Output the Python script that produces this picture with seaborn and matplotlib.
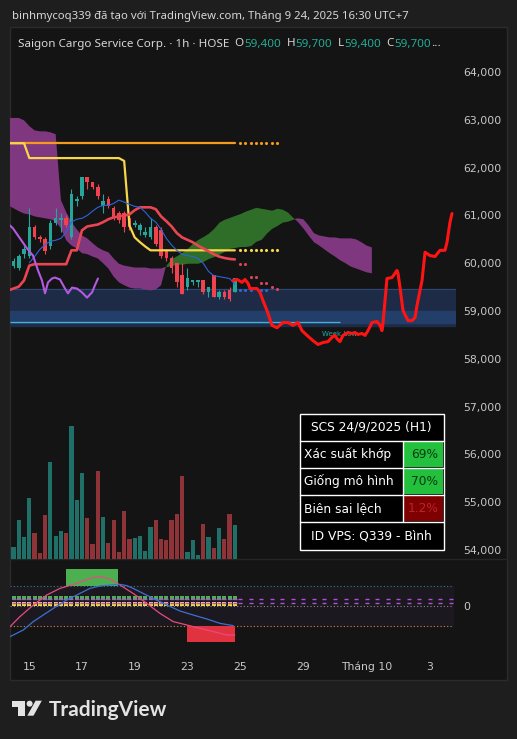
import numpy as np
import seaborn as sns
import matplotlib.pyplot as plt
from matplotlib.patches import Rectangle, Polygon, Circle
from matplotlib.ticker import FuncFormatter

# ---------------- data (SCS, 1h, HOSE) ----------------
# bar index 0 = last bars of 12/9, index 42 = 24/9 16:00
opens = [59950, 59900, 60200, 60150, 60750, 60550, 60500, 60350, 60850, 60900, 60950, 60550, 61300, 61400,
         61800, 61700, 61600, 61200, 61350, 61150, 61050, 61050, 60950, 60800, 60700, 60600, 60550, 60750,
         60700, 60250, 60100, 60000, 59750, 59500, 59600, 59600, 59650, 59400, 59750, 59300, 59400, 59450, 59400]
highs = [60100, 60200, 60350, 61150, 60800, 60600, 60550, 60900, 61150, 61050, 61000, 61550, 61400, 61800,
         61800, 61700, 61650, 61450, 61400, 61200, 61100, 61100, 61000, 60900, 60850, 60750, 60950, 60800,
         60750, 60300, 60150, 60000, 60000, 59900, 59650, 59650, 59650, 59500, 59750, 59450, 59450, 59500, 59700]
lows = [59900, 59850, 60100, 60100, 60500, 60450, 60200, 60300, 60800, 60650, 60750, 60500, 61200, 61350,
        61550, 61550, 61350, 61050, 61150, 60900, 60850, 60650, 60700, 60750, 60600, 60550, 60500, 60350,
        60100, 60050, 59800, 59500, 59350, 59450, 59550, 59500, 59350, 59300, 59300, 59250, 59250, 59200, 59400]
closes = [60050, 60150, 60300, 60750, 60550, 60500, 60250, 60850, 60950, 60950, 60800, 61450, 61350, 61800,
          61700, 61600, 61400, 61300, 61200, 60950, 60900, 60750, 60750, 60850, 60800, 60650, 60750, 60400,
          60150, 60100, 59900, 59600, 59350, 59700, 59650, 59650, 59400, 59500, 59300, 59400, 59300, 59250, 59700]
volumes = [24, 78, 44, 122, 52, 12, 88, 194, 46, 56, 52, 266, 118, 172, 82, 30, 176, 84, 32, 78, 14, 96,
           40, 42, 46, 16, 64, 78, 40, 38, 78, 90, 166, 14, 38, 8, 70, 44, 22, 62, 40, 90, 68]  # nghìn cp

# ichimoku-like lines, one value per bar starting at bar -1
kijun = [59430, 59470, 59510, 59640, 59950, 59980, 59980, 59980, 59980, 59980, 59980, 59980, 60270, 60270,
         60690, 60770, 60790, 60810, 60860, 60920, 60960, 60980, 61000, 61020, 61110, 61170, 61170, 61170,
         61130, 60980, 60880, 60770, 60630, 60540, 60490, 60440, 60370, 60310, 60250, 60190, 60140, 60110,
         60090, 60080]
yellow_line = [62510, 62510, 62510, 62510, 62200, 62200, 62200, 62200, 62200, 62200, 62200, 62200, 62200,
               62200, 62200, 62200, 62200, 62200, 62200, 62200, 62200, 62200, 62140, 60790, 60540, 60440,
               60350, 60270, 60270, 60270, 60270, 60270, 60270, 60270, 60270, 60270, 60270, 60270, 60270,
               60270, 60270, 60270, 60270, 60270]
orange_level = 62510
# tenkan starts at bar 3
tenkan = [60010, 60140, 60290, 60390, 60460, 60480, 60520, 60650, 60860, 60920, 60940, 61000, 61090, 61170,
          61210, 61210, 61250, 61320, 61280, 61230, 61190, 61170, 61070, 60940, 60860, 60710, 60520, 60380,
          60270, 60190, 60160, 60140, 60100, 60000, 59830, 59740, 59720, 59700, 59680, 59560]

# cloud spans, bars -1 .. 68
span_a = [61210, 61150, 61090, 61040, 61020, 60980, 60960, 60940, 60920, 60880, 60730, 60480, 60370, 60310,
          60210, 60190, 60140, 60100, 60000, 59890, 59720, 59600, 59540, 59490, 59470, 59470, 59450, 59430,
          59450, 59540, 59970, 60100, 60160, 60230, 60310, 60420, 60500, 60560, 60630, 60730, 60860, 60920,
          60960, 61000, 61040, 61090, 61130, 61170, 61150, 61130, 61110, 61150, 61130, 61070, 60960, 60860,
          60730, 60580, 60440, 60370, 60290, 60210, 60140, 60060, 60000, 59930, 59890, 59850, 59810, 59790]
span_b = [63040, 63040, 63040, 62990, 62870, 62780, 62760, 62760, 62740, 62700, 61320, 61070, 60860, 60710,
          60580, 60520, 60420, 60330, 60270, 60230, 60100, 59990, 59950, 59930, 59910, 59910, 59910, 59890,
          59890, 59890, 59930, 59950, 59980, 59980, 60000, 60000, 60000, 60040, 60100, 60140, 60190, 60250,
          60310, 60330, 60350, 60350, 60370, 60460, 60500, 60630, 60730, 60790, 60860, 60880, 60920, 60940,
          60920, 60790, 60630, 60580, 60560, 60540, 60540, 60520, 60520, 60520, 60500, 60440, 60370, 60330]

chikou_x = [-0.66, -0.1, 1.23, 2.56, 3.7, 4.65, 5.4, 5.98, 6.55, 7.3, 7.87, 8.82, 9.77, 10.34, 11.1, 12.05,
            13.0, 13.95, 14.9, 15.46, 16.03]
chikou_y = [60790, 60730, 60520, 60310, 60160, 59850, 59640, 59370, 59600, 59680, 59700, 59660, 59470, 59370,
            59490, 59470, 59390, 59280, 59390, 59540, 59680]

# projected path
fc_x = [41.65, 42.41, 43.36, 43.93, 44.5, 44.88, 46.2, 46.77, 47.34, 48.1, 49.05, 50.0, 51.14, 52.09, 53.04,
        53.99, 54.74, 55.69, 56.83, 57.78, 58.73, 59.68, 60.44, 61.0, 61.39, 61.95, 62.52, 63.47, 64.23, 64.8,
        65.37, 66.13, 66.7, 67.27, 68.03, 68.98, 69.55, 69.92, 70.11, 70.87, 71.82, 72.77, 72.96, 73.34, 73.91,
        74.86, 75.62, 76.19, 76.57, 77.52, 78.09, 79.04, 79.98, 80.93, 81.88, 82.26, 82.83, 83.21]
fc_y = [59640, 59660, 59600, 59660, 59580, 59470, 59470, 59390, 59220, 59010, 58700, 58650, 58760, 58760,
        58700, 58760, 58590, 58490, 58380, 58300, 58340, 58360, 58450, 58490, 58420, 58360, 58490, 58550,
        58530, 58550, 58510, 58530, 58490, 58590, 58760, 58780, 58700, 58590, 58740, 59680, 59700, 59850,
        59790, 59490, 59010, 58800, 58800, 58860, 59120, 59640, 60230, 60160, 60140, 60270, 60270, 60440,
        60860, 61040]

# dotted future offsets
dots_x = [43, 44, 45, 46, 47, 48, 49, 50]
kijun_dots_x = [43, 44]
kijun_dots_y = [59980, 59980]
pink_dots_x = [45, 46, 47, 48, 49, 50]
pink_dots_y = [59720, 59720, 59580, 59580, 59510, 59470]
blue_dots_x = [43, 44, 45, 47, 48]
blue_dots_y = [59450, 59450, 59450, 59430, 59430]

zone_outer = (58680, 59470)
zone_inner = (58740, 58990)
week_low = 58780
week_low_end = 62

# oscillator pane
osc_pink_x = [-0.66, 1.23, 3.76, 6.3, 8.82, 12.0, 14.5, 16.4, 18.3, 20.2, 22.7, 25.3, 27.8, 30.3, 32.9,
              35.4, 37.9, 40.5, 42.0]
osc_pink = [-1.03, -0.53, 0.05, 0.55, 0.88, 1.13, 1.38, 1.47, 1.35, 1.05, 0.63, 0.13, -0.37, -0.78, -0.95,
            -1.12, -1.28, -1.45, -1.45]
osc_blue_x = [-0.66, 1.86, 3.76, 5.65, 7.55, 10.1, 12.0, 14.5, 16.4, 18.3, 20.2, 21.5, 22.7, 24.6, 26.5,
              29.1, 31.6, 34.1, 36.7, 39.2, 41.7]
osc_blue = [-1.53, -1.2, -0.78, -0.45, -0.12, 0.3, 0.55, 0.88, 1.0, 1.05, 1.08, 1.02, 0.88, 0.63, 0.38, 0.05,
            -0.25, -0.45, -0.65, -0.87, -0.98]
buy_box_x = [9.96, 19.8]
buy_box = (1.0, 1.85)
sell_box_x = [32.9, 42.0]
sell_box = (-1.8, -1.0)

tick_idx = [3, 13, 23, 33, 43, 55, 67, 79]
tick_labels = ["15", "17", "19", "23", "25", "29", "Tháng 10", "3"]

table_title = "SCS 24/9/2025 (H1)"
table_rows = ["Xác suất khớp", "Giống mô hình", "Biên sai lệch"]
table_vals = ["69%", "70%", "1.2%"]
table_footer = "ID VPS: Q339 - Bình"

# ---------------- style ----------------
sns.set_theme(style="dark")
plt.rcParams["font.family"] = ["DejaVu Sans"]

UP, DOWN = "#26a69a", "#f0424f"
VUP, VDOWN = "#20706a", "#8e3438"
TXT = "#c8c8c8"

W, H = 517, 739
fig = plt.figure(figsize=(W / 100, H / 100), dpi=100, facecolor="#1e1e1e")


def px_axes(l, t, r, b, **kw):
    return fig.add_axes([l / W, 1 - b / H, (r - l) / W, (b - t) / H], **kw)


def px2idx(p):
    return (p - 13.5) / 5.27


XL = (px2idx(10), px2idx(456))

bg = px_axes(0, 0, W, H, zorder=0)
bg.set_xlim(0, W)
bg.set_ylim(H, 0)
bg.axis("off")
bg.add_patch(Rectangle((10, 27), 497, 653, fc="#141414", ec="#2b2b2b", lw=1))
bg.plot([10, 507], [559, 559], color="#262626", lw=1)

bars = np.arange(len(opens))
o, c = np.array(opens), np.array(closes)
up = c >= o
cols = np.where(up, UP, DOWN)

# volume
axv = px_axes(10, 28, 456, 559, zorder=1)
axv.bar(bars, volumes, width=0.8, color=np.where(up, VUP, VDOWN), linewidth=0)
axv.set_xlim(*XL)
axv.set_ylim(0, 1062)
axv.axis("off")

# main price pane
ax = px_axes(10, 28, 456, 559, zorder=2)
ax.set_facecolor("none")
ax.set_xlim(*XL)
ax.set_ylim(53811, 64922)

cloud_x = np.arange(-1, -1 + len(span_a))
sa, sb = np.array(span_a), np.array(span_b)
ax.fill_between(cloud_x, sa, sb, where=sa >= sb, interpolate=True, color="#2e6e28", lw=0, zorder=1)
ax.fill_between(cloud_x, sa, sb, where=sa < sb, interpolate=True, color="#7f3780", lw=0, zorder=1)

ax.axhspan(*zone_outer, xmax=0.998, color="#1d2b47", zorder=0.5)
ax.axhspan(*zone_inner, xmax=0.998, color="#243e6a", zorder=0.6)
ax.axhline(zone_outer[1], xmax=0.998, color="#2c4675", lw=0.8, zorder=0.7)
ax.hlines(week_low, XL[0], week_low_end, color="#3fb6d8", lw=0.9, zorder=3)
ax.text(61.8, 58510, "Week Low", color=UP, fontsize=5, ha="center", va="center", zorder=6)

line_x = np.arange(-1, -1 + len(kijun))
sns.lineplot(x=line_x, y=np.full(len(line_x), orange_level), ax=ax, color="#f59a1f", lw=1.6,
             estimator=None, sort=False, zorder=6)
sns.lineplot(x=line_x, y=yellow_line, ax=ax, color="#f6d64a", lw=1.6, estimator=None, sort=False, zorder=6)
sns.lineplot(x=line_x, y=kijun, ax=ax, color="#ea4552", lw=1.9, estimator=None, sort=False, zorder=6)
sns.lineplot(x=np.arange(3, 3 + len(tenkan)), y=tenkan, ax=ax, color="#2f63d8", lw=0.8,
             estimator=None, sort=False, zorder=6)
sns.lineplot(x=chikou_x, y=chikou_y, ax=ax, color="#b35ae0", lw=1.5, estimator=None, sort=False, zorder=6)

sns.scatterplot(x=dots_x, y=[orange_level] * len(dots_x), ax=ax, color="#f59a1f", s=5, linewidth=0, zorder=6)
sns.scatterplot(x=dots_x, y=[yellow_line[-1]] * len(dots_x), ax=ax, color="#f6d64a", s=5, linewidth=0, zorder=6)
sns.scatterplot(x=kijun_dots_x, y=kijun_dots_y, ax=ax, color="#e0404e", s=5, linewidth=0, zorder=6)
sns.scatterplot(x=pink_dots_x, y=pink_dots_y, ax=ax, color="#d8455e", s=5, linewidth=0, zorder=6)
sns.scatterplot(x=blue_dots_x, y=blue_dots_y, ax=ax, color="#2f63d8", s=5, linewidth=0, zorder=6)

# candles
ax.vlines(bars, lows, highs, colors=cols, lw=0.8, zorder=4)
ax.bar(bars, c - o, bottom=o, width=0.68, color=cols, linewidth=0, zorder=5)

sns.lineplot(x=fc_x, y=fc_y, ax=ax, color="#ff1414", lw=2.2, estimator=None, sort=False, zorder=8)

ax.yaxis.tick_right()
ax.set_yticks(np.arange(54000, 64001, 1000))
ax.yaxis.set_major_formatter(FuncFormatter(lambda v, _: f"{v:,.0f}"))
ax.tick_params(axis="y", length=0, pad=5, labelsize=7.8, labelcolor=TXT)
ax.set_xticks([])
ax.grid(False)
for s in ax.spines.values():
    s.set_visible(False)

# oscillator pane
ax2 = px_axes(10, 559, 456, 652, zorder=2)
ax2.set_facecolor("none")
ax2.set_xlim(*XL)
ax2.set_ylim(-2.3, 2.35)
ax2.axhspan(-1, 1, xmax=0.994, color="#1b191f", zorder=0)
ax2.axhline(1, xmax=0.994, color="#2d7f78", lw=0.8, ls=(0, (1, 2)), zorder=1)
ax2.axhline(0, xmax=0.994, color="#8c8c8c", lw=0.8, ls=(0, (1, 2)), zorder=1)
ax2.axhline(-1, xmax=0.994, color="#c98a2c", lw=0.8, ls=(0, (1, 2)), zorder=1)
ax2.fill_between(buy_box_x, buy_box[0], buy_box[1], color="#4caf50", lw=0, zorder=2)
ax2.fill_between(sell_box_x, sell_box[0], sell_box[1], color="#e0323f", lw=0, zorder=2)

sns.scatterplot(x=bars, y=[0.38] * len(bars), ax=ax2, marker="s", s=11, color="#4caf50", linewidth=0, zorder=3)
sns.scatterplot(x=bars, y=[0.12] * len(bars), ax=ax2, marker="s", s=11, color="#f2d542", linewidth=0, zorder=3)
eq_x = list(bars) + list(range(43, 84, 2))
for lvl in (0.33, 0.17):
    sns.scatterplot(x=eq_x, y=[lvl] * len(eq_x), ax=ax2, marker="_", s=10, color="#b04fd8",
                    linewidth=1, zorder=4)

sns.lineplot(x=osc_pink_x, y=osc_pink, ax=ax2, color="#e84a7f", lw=0.9, estimator=None, sort=False, zorder=5)
sns.lineplot(x=osc_blue_x, y=osc_blue, ax=ax2, color="#3d6fd6", lw=0.9, estimator=None, sort=False, zorder=5)

ax2.set_xticks(tick_idx)
ax2.set_xticklabels(tick_labels)
ax2.yaxis.tick_right()
ax2.set_yticks([0])
ax2.set_yticklabels(["0"])
ax2.tick_params(axis="both", length=0, labelsize=7.8, labelcolor=TXT)
ax2.tick_params(axis="x", pad=7)
ax2.tick_params(axis="y", pad=5)
ax2.grid(False)
for s in ax2.spines.values():
    s.set_visible(False)

# overlay: headers, table, logo
top = px_axes(0, 0, W, H, zorder=5)
top.set_xlim(0, W)
top.set_ylim(H, 0)
top.axis("off")

HF = ["Noto Sans", "DejaVu Sans"]
top.text(11.5, 19, "binhmycoq339 đã tạo với TradingView.com, Tháng 9 24, 2025 16:30 UTC+7",
         fontsize=8.15, family=HF, color="#d6d6d6", va="baseline")
parts = [("Saigon Cargo Service Corp. · 1h · HOSE", "#d6d6d6"), ("  O", "#d6d6d6"), ("59,400", "#22ab94"),
         ("  H", "#d6d6d6"), ("59,700", "#22ab94"), ("  L", "#d6d6d6"), ("59,400", "#22ab94"),
         ("  C", "#d6d6d6"), ("59,700", "#22ab94"), ("...", "#d6d6d6")]
t = top.text(17.5, 46.5, parts[0][0], fontsize=8.4, family=HF, color=parts[0][1], va="baseline")
for s, col in parts[1:]:
    t = top.annotate(s, xy=(1, 0), xycoords=t, fontsize=8.4, family=HF, color=col, va="bottom", ha="left")

# info table
tl, tr, tt, tb, tc = 299.5, 443.5, 414, 549.5, 402.5
rows_y = [414, 441, 468, 495, 522, 549.5]
top.add_patch(Rectangle((tl, tt), tr - tl, tb - tt, fc="black", ec="white", lw=1, zorder=1))
cell_cols = ["#22c03c", "#22c03c", "#7f0000"]
val_cols = ["#0d3a12", "#0d3a12", "#b8262a"]
for k in range(3):
    top.add_patch(Rectangle((tc + 1, rows_y[k + 1] + 1), tr - tc - 2, rows_y[k + 2] - rows_y[k + 1] - 2,
                            fc=cell_cols[k], lw=0, zorder=1))
for yv in rows_y[1:-1]:
    top.plot([tl, tr], [yv, yv], color="white", lw=1, zorder=2)
top.plot([tc, tc], [rows_y[1], rows_y[4]], color="white", lw=1, zorder=2)
top.text((tl + tr) / 2, (rows_y[0] + rows_y[1]) / 2, table_title, color="white", fontsize=8.8,
         ha="center", va="center", zorder=3)
for k in range(3):
    ym = (rows_y[k + 1] + rows_y[k + 2]) / 2
    top.text(tl + 5, ym, table_rows[k], color="white", fontsize=8.8, ha="left", va="center", zorder=3)
    top.text(tr - 5, ym, table_vals[k], color=val_cols[k], fontsize=8.8, ha="right", va="center", zorder=3)
top.text((tl + tr) / 2, (rows_y[4] + rows_y[5]) / 2, table_footer, color="white", fontsize=8.8,
         ha="center", va="center", zorder=3)

# TradingView logo
LC = "#e3e3e3"
top.add_patch(Polygon([(11.7, 700.7), (25, 700.7), (25, 715.7), (18.3, 715.7), (18.3, 706.7), (11.7, 706.7)],
                      fc=LC, lw=0))
top.add_patch(Circle((29.6, 703.7), 3.0, fc=LC, lw=0))
top.add_patch(Polygon([(27.3, 715.7), (33.5, 715.7), (41.8, 700.7), (35.6, 700.7)], fc=LC, lw=0))
top.text(49, 715.7, "TradingView", fontsize=15, fontweight="bold", family=["Lato", "DejaVu Sans"],
         color=LC, va="baseline")

fig.savefig("out.png", dpi=100, facecolor=fig.get_facecolor())
